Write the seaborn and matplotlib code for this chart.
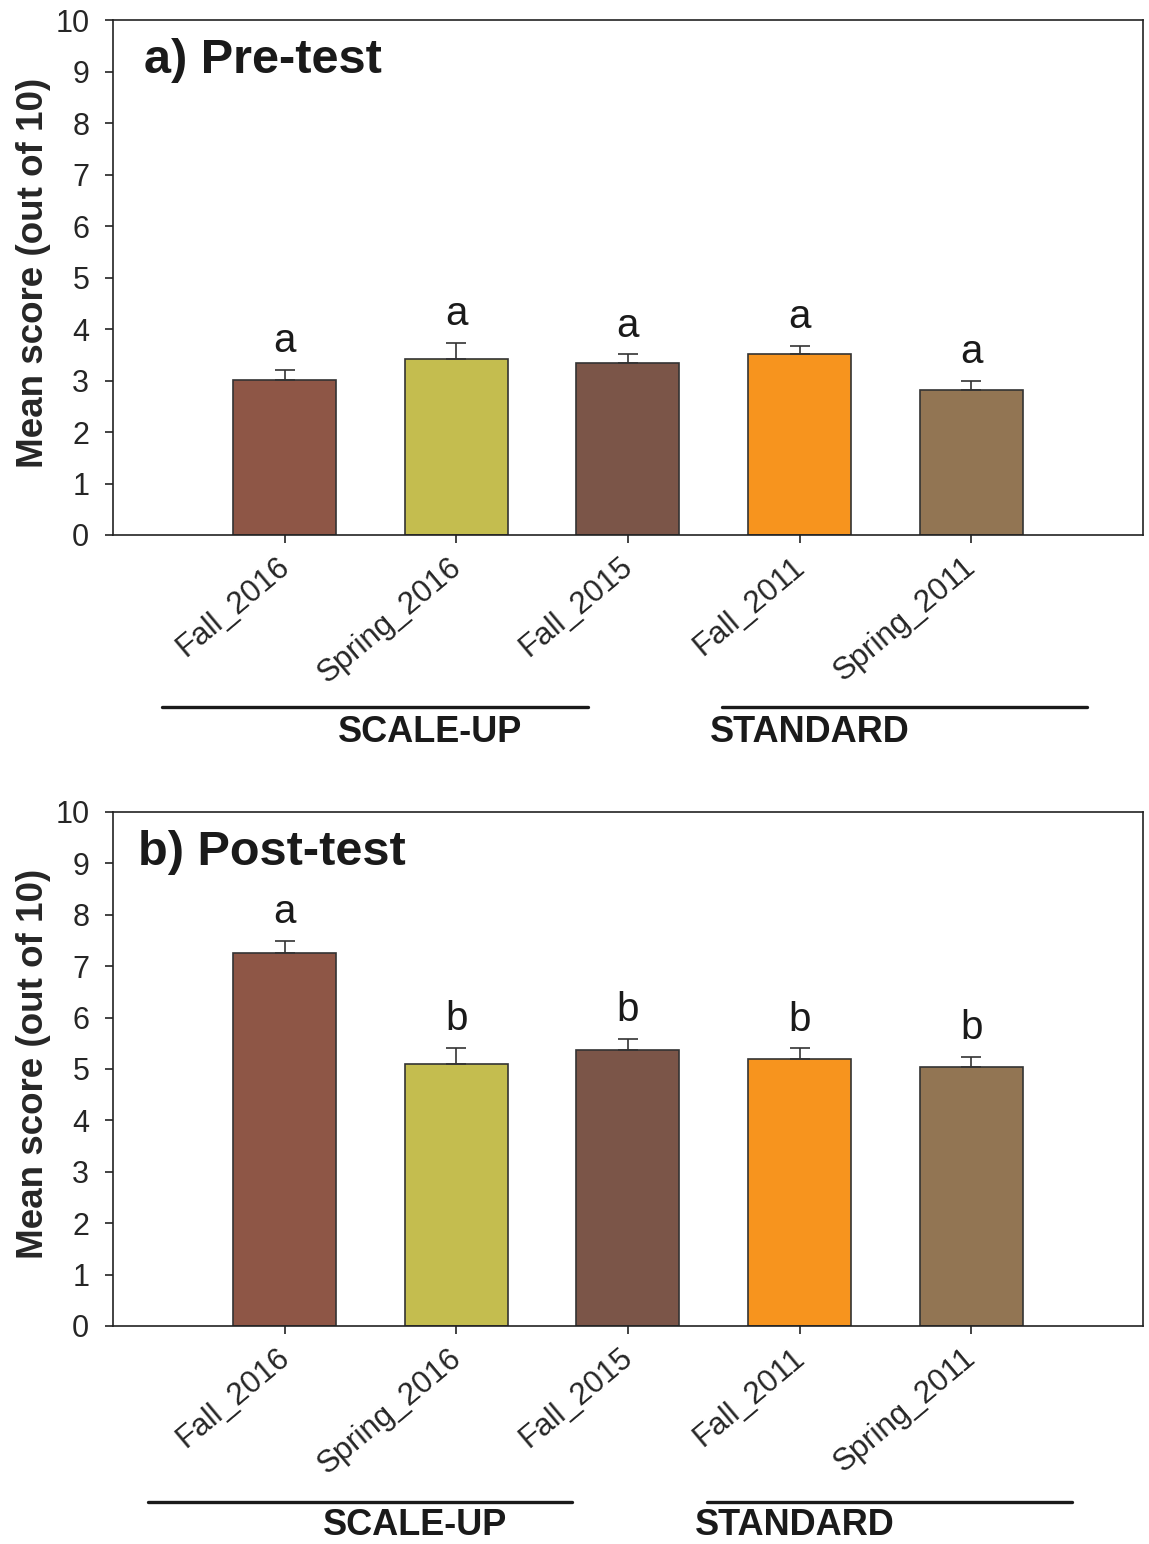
import numpy as np
import pandas as pd
import matplotlib
matplotlib.use("Agg")
import matplotlib.pyplot as plt
import matplotlib.transforms as mtransforms
from matplotlib import font_manager
import seaborn as sns

# data
sessions = ['Fall_2016', 'Spring_2016', 'Fall_2015', 'Fall_2011', 'Spring_2011']
pre_mean = [3.01, 3.42, 3.34, 3.51, 2.82]
pre_err = [0.19, 0.31, 0.17, 0.16, 0.17]
pre_letters = ['a', 'a', 'a', 'a', 'a']
post_mean = [7.26, 5.10, 5.37, 5.19, 5.04]
post_err = [0.23, 0.31, 0.21, 0.21, 0.20]
post_letters = ['a', 'b', 'b', 'b', 'b']
bar_colors = ['#8E5646', '#C4BD4F', '#7B5548', '#F7941E', '#927553']
groups = ['SCALE-UP', 'STANDARD']

sns.set_style("white")
plt.rcParams['font.family'] = ['Liberation Sans', 'DejaVu Sans']

# condensed bold for the group names if available
names = {f.name for f in font_manager.fontManager.ttflist}
if 'Liberation Sans Narrow' in names:
    group_font, group_size = 'Liberation Sans Narrow', 30
else:
    group_font, group_size = 'Liberation Sans', 26

fig = plt.figure(figsize=(11.49, 15.44), dpi=100)
ax_a = fig.add_axes([0.0983, 0.6535, 0.8965, 0.3335])
ax_b = fig.add_axes([0.0983, 0.1412, 0.8965, 0.3329])

panels = [
    (ax_a, pre_mean, pre_err, pre_letters, 'a) Pre-test', 0.03,
     [(-0.714, 1.768), (2.549, 4.676)], [0.847, 3.06], -0.334, -0.383),
    (ax_b, post_mean, post_err, post_letters, 'b) Post-test', 0.024,
     [(-0.796, 1.675), (2.461, 4.589)], [0.76, 2.974], -0.342, -0.389),
]

for ax, means, errs, letters, title, tx, spans, lab_x, line_y, lab_y in panels:
    df = pd.DataFrame({'session': sessions, 'mean': means, 'err': errs})
    sns.barplot(ax=ax, data=df, x='session', y='mean', hue='session',
                palette=bar_colors, legend=False, width=0.6,
                edgecolor='#333333', linewidth=1.2, saturation=1)
    xs = np.arange(len(sessions))
    ax.errorbar(xs, df['mean'], yerr=[np.zeros(len(xs)), df['err']],
                fmt='none', ecolor='#333333', elinewidth=1.2,
                capsize=7, capthick=1.2, zorder=3)
    for x, m, e, l in zip(xs, means, errs, letters):
        ax.annotate(l, (x, m + e), xytext=(0, 7), textcoords='offset points',
                    ha='center', va='bottom', fontsize=29, color='#1a1a1a')

    ax.set_xlim(-1, 5)
    ax.set_ylim(0, 10)
    ax.set_yticks(range(0, 11))
    ax.tick_params(axis='both', which='major', labelsize=22, direction='out',
                   length=6, width=1.2, color='#222222', left=True, bottom=True)
    ax.tick_params(axis='y', pad=11)
    ax.set_xticks(xs)
    ax.set_xticklabels(sessions, rotation=40, ha='right', va='center',
                       rotation_mode='anchor', fontsize=22.5)
    for lab in ax.get_xticklabels():
        lab.set_transform(lab.get_transform() +
                          mtransforms.ScaledTranslation(0.01, -0.15, fig.dpi_scale_trans))
    ax.set_xlabel('')
    ax.set_ylabel('Mean score (out of 10)', fontsize=26.5, fontweight='bold')
    ax.yaxis.set_label_coords(-0.06, 0.51)
    for sp in ax.spines.values():
        sp.set_visible(True)
        sp.set_color('#222222')
        sp.set_linewidth(1.2)
    ax.text(tx, 0.965, title, transform=ax.transAxes, ha='left', va='top',
            fontsize=35, fontweight='bold', color='#1a1a1a')

    trans = mtransforms.blended_transform_factory(ax.transData, ax.transAxes)
    for (x0, x1), lx, g in zip(spans, lab_x, groups):
        ax.plot([x0, x1], [line_y, line_y], transform=trans, clip_on=False,
                color='#1a1a1a', lw=2.4)
        ax.text(lx, lab_y, g, transform=trans, ha='center', va='center',
                family=group_font, fontsize=group_size, fontweight='bold',
                color='#1a1a1a')

fig.savefig('out.png', dpi=100, facecolor='#FFFFFF')
